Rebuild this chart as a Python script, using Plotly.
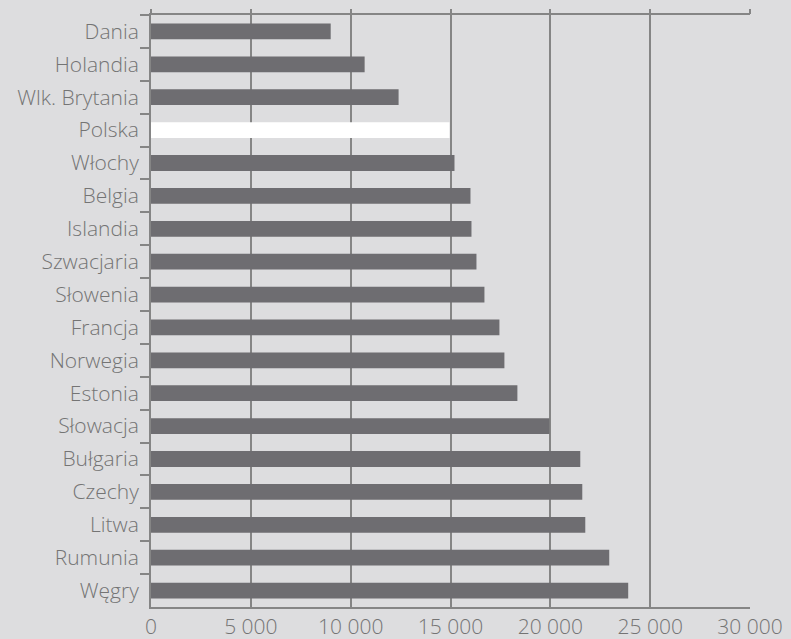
import plotly.graph_objects as go

# Countries, top to bottom
countries = [
    "Dania", "Holandia", "Wlk. Brytania", "Polska", "Włochy", "Belgia",
    "Islandia", "Szwacjaria", "Słowenia", "Francja", "Norwegia", "Estonia",
    "Słowacja", "Bułgaria", "Czechy", "Litwa", "Rumunia", "Węgry",
]
values = [
    9000, 10700, 12400, 14950, 15200, 16000,
    16050, 16300, 16700, 17450, 17700, 18350,
    19950, 21500, 21600, 21750, 22950, 23900,
]
highlight = "Polska"
x_ticks = [0, 5000, 10000, 15000, 20000, 25000, 30000]

BG = "#dddddf"
BAR = "#6e6d71"
GRID = "#858585"
TEXT = "#747474"
FONT = "Open Sans"

bar_colors = ["#ffffff" if c == highlight else BAR for c in countries]

fig = go.Figure()
fig.add_trace(go.Bar(
    x=values, y=countries, orientation="h",
    marker=dict(color=bar_colors, line=dict(width=0)),
    hoverinfo="x+y",
))
# invisible helper on the top axis so its tick marks render
fig.add_trace(go.Scatter(
    x=[x_ticks[0]], y=[countries[0]], xaxis="x2", mode="markers",
    marker=dict(opacity=0), hoverinfo="skip", showlegend=False,
))

n = len(countries)

fig.update_layout(
    width=791, height=639,
    margin=dict(l=151, r=41, t=15, b=32),
    paper_bgcolor=BG, plot_bgcolor=BG,
    separators=", ",
    showlegend=False,
    bargap=0.52,
    font=dict(family=FONT, color=TEXT, size=20, weight=350),
    xaxis=dict(
        range=[0, 30000], tickvals=x_ticks, tickformat=",d",
        showgrid=True, gridcolor=GRID, gridwidth=1.5,
        showline=True, linecolor=GRID, linewidth=2, mirror=True,
        ticks="", zeroline=False, automargin=False,
        tickfont=dict(family=FONT, size=21, color=TEXT, weight=350),
    ),
    xaxis2=dict(
        overlaying="x", side="top", matches="x", range=[0, 30000],
        tickvals=x_ticks, showticklabels=False, showgrid=False,
        ticks="outside", ticklen=5, tickwidth=1.5, tickcolor=GRID,
        zeroline=False, automargin=False,
    ),
    yaxis=dict(
        categoryorder="array", categoryarray=countries,
        range=[n - 0.5, -0.5], autorange=False, automargin=False,
        showgrid=False, showline=True, linecolor=GRID, linewidth=2,
        ticks="outside", tickson="boundaries", ticklen=9, tickwidth=1.5,
        tickcolor=GRID, ticklabelstandoff=6,
        tickfont=dict(family=FONT, size=21, color=TEXT, weight=350),
    ),
)

fig.write_html("out.html")
